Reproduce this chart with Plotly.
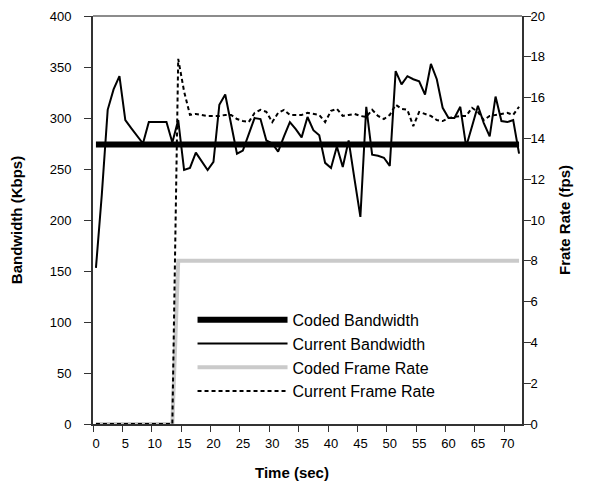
import plotly.graph_objects as go

# ---- data ----
time_sec = list(range(73))
x_tick_labels = [str(v) for v in range(0, 75, 5)]

coded_bandwidth = [274] * 73
current_bandwidth = [
    153, 225, 308, 328, 341, 298, 290, 283, 275, 296,
    296, 296, 296, 276, 298, 249, 251, 266, 258, 249,
    257, 313, 323, 294, 265, 268, 284, 300, 299, 278,
    275, 267, 282, 296, 289, 281, 301, 288, 283, 256,
    251, 272, 252, 278, 240, 203, 311, 264, 263, 261,
    253, 346, 333, 341, 338, 336, 323, 353, 338, 310,
    300, 300, 311, 272, 292, 312, 295, 282, 321, 297,
    296, 298, 265,
]
coded_frame_rate = [0] * 14 + [8] * 59
current_frame_rate = [0] * 14 + [
    17.9, 16.3, 15.15, 15.2, 15.15, 15.1, 15.1, 15.1, 15.15, 15.15,
    14.95, 14.85, 14.8, 15.25, 15.4, 15.3, 14.8, 15.25, 15.4, 15.15,
    15.15, 15.15, 15.25, 15.2, 15.15, 14.8, 15.35, 15.45, 15.1, 15.15,
    15.2, 15.1, 15.05, 15.4, 15.1, 14.95, 15.15, 15.65, 15.45, 15.4,
    14.6, 15.3, 15.2, 15.1, 14.9, 14.85, 15.0, 15.05, 15.1, 15.1,
    15.5, 15.3, 14.9, 15.1, 15.15, 15.2, 15.25, 15.15, 15.55,
]
current_frame_rate = current_frame_rate[:73]

FONT = "Liberation Sans, Arial, sans-serif"
XR = [-0.5, 72.5]
boundaries = [v - 0.5 for v in range(0, 75, 5)]

fig = go.Figure()
fig.add_trace(go.Scatter(x=time_sec, y=coded_bandwidth, mode="lines", name="Coded Bandwidth",
                         line=dict(color="black", width=6)))
fig.add_trace(go.Scatter(x=time_sec, y=current_bandwidth, mode="lines", name="Current Bandwidth",
                         line=dict(color="black", width=2)))
fig.add_trace(go.Scatter(x=time_sec, y=coded_frame_rate, mode="lines", name="Coded Frame Rate",
                         line=dict(color="#cacaca", width=4), yaxis="y2"))
fig.add_trace(go.Scatter(x=time_sec, y=current_frame_rate, mode="lines", name="Current Frame Rate",
                         line=dict(color="black", width=2, dash="4px,3px"), yaxis="y2"))

axis_common = dict(showgrid=False, zeroline=False, automargin=False,
                   tickfont=dict(family=FONT, size=13, color="black"))
overlay_common = dict(showticklabels=False, showline=False, showgrid=False, zeroline=False,
                      automargin=False, tickcolor="#333")

fig.update_layout(
    width=596, height=491,
    margin=dict(l=93, r=74, t=16, b=67),
    paper_bgcolor="white", plot_bgcolor="white",
    font=dict(family=FONT, color="black"),
    showlegend=True,
    legend=dict(x=0.232, y=0.297, xanchor="left", yanchor="top", bgcolor="rgba(0,0,0,0)",
                font=dict(family=FONT, size=16, color="black"), itemwidth=90,
                tracegroupgap=0),
    xaxis=dict(range=XR, tickmode="array", tickvals=boundaries, ticktext=x_tick_labels,
               ticklabelshift=3, ticks="outside", ticklen=6, tickcolor="#333",
               showline=True, linecolor="#333", linewidth=2,
               **axis_common),
    xaxis2=dict(range=XR, overlaying="x", anchor="y", side="bottom", tickmode="array",
                tickvals=boundaries, ticks="inside", ticklen=6, **overlay_common),
    yaxis=dict(range=[0, 400], tickmode="linear", dtick=50, ticks="outside", ticklen=7,
               tickcolor="#333", showline=True, linecolor="#333", linewidth=2,
               ticklabelstandoff=10,
               title=dict(text="<b>Bandwidth (Kbps)</b>", font=dict(family=FONT, size=15), standoff=23),
               **axis_common),
    yaxis2=dict(range=[0, 20], tickmode="linear", dtick=2, overlaying="y", side="right",
                anchor="x", ticks="outside", ticklen=7, tickcolor="#333", showline=True,
                linecolor="#333", linewidth=2, ticklabelstandoff=-3,
                title=dict(text="<b>Frate Rate (fps)</b>", font=dict(family=FONT, size=15), standoff=15),
                **axis_common),
    yaxis3=dict(range=[0, 400], overlaying="y", side="left", anchor="x", tickmode="linear",
                dtick=50, ticks="inside", ticklen=6, **overlay_common),
    yaxis4=dict(range=[0, 20], overlaying="y", side="right", anchor="x", tickmode="linear",
                dtick=2, ticks="inside", ticklen=6, **overlay_common),
    shapes=[dict(type="line", xref="paper", yref="paper", x0=0, x1=1, y0=1, y1=1,
                 line=dict(color="#8c8c8c", width=2))],
    annotations=[dict(text="<b>Time (sec)</b>", xref="paper", yref="paper", x=0.465, y=0,
                      yshift=-48, xanchor="center", yanchor="middle", showarrow=False,
                      font=dict(family=FONT, size=15, color="black"))],
)

fig.write_html("out.html", config={"displayModeBar": False},
               post_script="document.body.style.margin='0px';document.body.style.overflow='hidden';")
